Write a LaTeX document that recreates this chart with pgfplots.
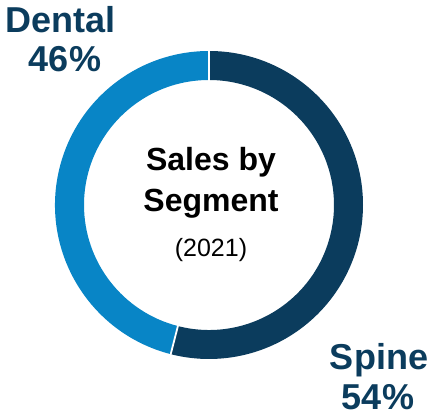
\documentclass[border=0pt]{standalone}
\usepackage{pgfplots}
\pgfplotsset{compat=1.18}
\usepackage{pgfplotstable}
\usepackage{fontspec}
\setmainfont{Liberation Sans}

\definecolor{spine}{HTML}{0B3C5D}
\definecolor{dental}{HTML}{0885C6}

% segment shares in percent
\pgfplotstableread{
segment value
Spine   54
Dental  46
}\salesdata

\begin{document}
\begin{tikzpicture}
\pgfplotstablegetelem{0}{value}\of\salesdata
\pgfmathtruncatemacro{\vspine}{\pgfplotsretval}
\pgfplotstablegetelem{1}{value}\of\salesdata
\pgfmathtruncatemacro{\vdental}{\pgfplotsretval}
\pgfmathsetmacro{\aA}{90}
\pgfmathsetmacro{\aB}{90-3.6*\vspine}
\pgfmathsetmacro{\aC}{\aB-3.6*\vdental}
\def\cx{209}\def\cy{212}\def\Ro{154}\def\Ri{125}
\begin{axis}[
    x=1pt, y=1pt,
    xmin=0, xmax=429, ymin=0, ymax=417,
    hide axis, clip=false,
]
% ring segments
\fill[spine] (axis cs:{\cx+\Ro*cos(\aA)},{\cy+\Ro*sin(\aA)})
    arc[start angle=\aA, end angle=\aB, radius=\Ro pt]
    -- (axis cs:{\cx+\Ri*cos(\aB)},{\cy+\Ri*sin(\aB)})
    arc[start angle=\aB, end angle=\aA, radius=\Ri pt] -- cycle;
\fill[dental] (axis cs:{\cx+\Ro*cos(\aB)},{\cy+\Ro*sin(\aB)})
    arc[start angle=\aB, end angle=\aC, radius=\Ro pt]
    -- (axis cs:{\cx+\Ri*cos(\aC)},{\cy+\Ri*sin(\aC)})
    arc[start angle=\aC, end angle=\aB, radius=\Ri pt] -- cycle;
% white separators
\draw[white, line width=1.8pt]
    (axis cs:{\cx+(\Ri-2)*cos(\aA)},{\cy+(\Ri-2)*sin(\aA)}) -- (axis cs:{\cx+(\Ro+2)*cos(\aA)},{\cy+(\Ro+2)*sin(\aA)});
\draw[white, line width=1.8pt]
    (axis cs:{\cx+(\Ri-2)*cos(\aB)},{\cy+(\Ri-2)*sin(\aB)}) -- (axis cs:{\cx+(\Ro+2)*cos(\aB)},{\cy+(\Ro+2)*sin(\aB)});

% labels
\node[anchor=base, text=spine, font=\fontsize{36}{40}\selectfont\bfseries, inner sep=0pt] at (axis cs:61,384) {Dental};
\node[anchor=base, text=spine, font=\fontsize{36}{40}\selectfont\bfseries, inner sep=0pt] at (axis cs:65,345) {\vdental\%};
\node[anchor=base, text=spine, font=\fontsize{36}{40}\selectfont\bfseries, inner sep=0pt] at (axis cs:379,47) {Spine};
\node[anchor=base, text=spine, font=\fontsize{36}{40}\selectfont\bfseries, inner sep=0pt] at (axis cs:378,7) {\vspine\%};

% centre title
\node[anchor=base, font=\fontsize{32}{36}\selectfont\bfseries, inner sep=0pt] at (axis cs:211,246) {Sales by};
\node[anchor=base, font=\fontsize{32}{36}\selectfont\bfseries, inner sep=0pt] at (axis cs:211,205) {Segment};
\node[anchor=base, font=\fontsize{25}{28}\selectfont, inner sep=0pt] at (axis cs:211,160) {(2021)};
\end{axis}
\path[use as bounding box] (0,0) rectangle (429pt,417pt);
\end{tikzpicture}
\end{document}
